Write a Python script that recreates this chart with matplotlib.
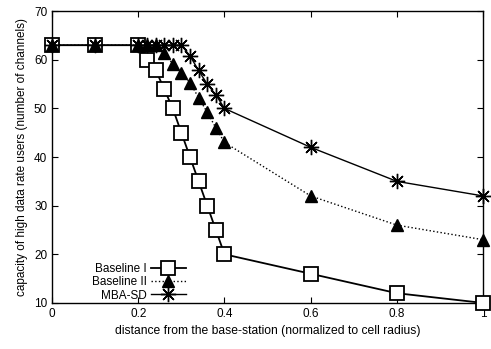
import matplotlib
matplotlib.use("Agg")
import matplotlib.pyplot as plt

plt.rcParams['font.family'] = ['Liberation Sans', 'DejaVu Sans']

# distance (normalized to cell radius)
x_b1 = [0, 0.1, 0.2, 0.22, 0.24, 0.26, 0.28, 0.3, 0.32, 0.34, 0.36, 0.38, 0.4, 0.6, 0.8, 1.0]
y_b1 = [63, 63, 63, 60, 58, 54, 50, 45, 40, 35, 30, 25, 20, 16, 12, 10]

x_b2 = [0, 0.1, 0.2, 0.22, 0.24, 0.26, 0.28, 0.3, 0.32, 0.34, 0.36, 0.38, 0.4, 0.6, 0.8, 1.0]
y_b2 = [63, 63, 63, 63, 63, 61.3, 59.2, 57.3, 55.3, 52.2, 49.2, 46, 43, 32, 26, 23]

x_mba = [0, 0.1, 0.2, 0.22, 0.24, 0.26, 0.28, 0.3, 0.32, 0.34, 0.36, 0.38, 0.4, 0.6, 0.8, 1.0]
y_mba = [63, 63, 63, 63, 63, 63, 63, 63, 60.8, 57.8, 55, 52.8, 50, 42, 35, 32]

x_ticks = [0, 0.2, 0.4, 0.6, 0.8, 1]
x_labels = ["0", "0.2", "0.4", "0.6", "0.8", "1"]
y_ticks = [10, 20, 30, 40, 50, 60, 70]

fig = plt.figure(figsize=(4.91, 3.49), dpi=100)
ax = fig.add_axes([0.106, 0.132, 0.878, 0.836])

ax.plot(x_b1, y_b1, color="black", linestyle="-", linewidth=1.3,
        marker="s", markersize=10, markerfacecolor="white",
        markeredgecolor="black", markeredgewidth=1.3, label="Baseline I",
        clip_on=False, zorder=3)
ax.plot(x_b2, y_b2, color="black", linestyle=":", linewidth=1.0,
        marker="^", markersize=9, markerfacecolor="black",
        markeredgecolor="black", label="Baseline II", clip_on=False, zorder=3)
ax.plot(x_mba, y_mba, color="black", linestyle="-", linewidth=1.0,
        marker=(8, 2, 0), markersize=11, markeredgewidth=1.0,
        markeredgecolor="black", label="MBA-SD", clip_on=False, zorder=3)

ax.set_xlim(0, 1)
ax.set_ylim(10, 70)
ax.set_xticks(x_ticks)
ax.set_xticklabels(x_labels)
ax.set_yticks(y_ticks)
ax.tick_params(direction="in", top=True, right=True, labelsize=8.5, length=4)
for s in ax.spines.values():
    s.set_linewidth(1.0)

ax.set_xlabel("distance from the base-station (normalized to cell radius)", fontsize=8.7)
ax.set_ylabel("capacity of high data rate users (number of channels)", fontsize=8.5)

ax.legend(loc="lower left", bbox_to_anchor=(0.07, -0.028), markerfirst=False,
          frameon=False, fontsize=8.5, handlelength=2.9, labelspacing=0.1,
          borderpad=0.3, handletextpad=0.4, handleheight=0.9)

fig.savefig("out.png", dpi=100)
